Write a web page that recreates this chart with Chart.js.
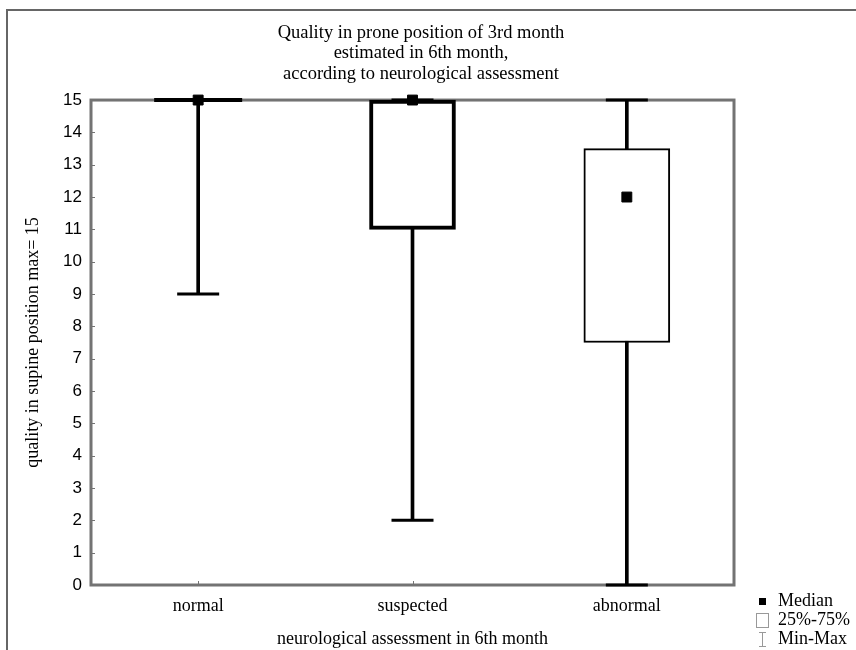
<!DOCTYPE html>
<html>
<head>
<meta charset="utf-8">
<script src="https://cdn.jsdelivr.net/npm/chart.js@4.4.0/dist/chart.umd.min.js"></script>
<style>
  body { margin: 0; background: #fff; }
  canvas { display: block; }
</style>
</head>
<body>
<canvas id="myChart" width="856" height="650"></canvas>
<script>
// box plot values
const labels = ['normal', 'suspected', 'abnormal'];
const minValues = [9, 2, 0];
const q1Values = [15, 11, 7.5];
const medianValues = [15, 15, 12];
const q3Values = [15, 15, 13.5];
const maxValues = [15, 15, 15];
const yTicks = [0, 1, 2, 3, 4, 5, 6, 7, 8, 9, 10, 11, 12, 13, 14, 15];

const frameGrey = '#737373';

// caps at both ends of each whisker
const capPoints = [];
labels.forEach((l, i) => {
    capPoints.push({x: l, y: minValues[i]});
    capPoints.push({x: l, y: maxValues[i]});
});
// a box with q1 == q3 collapses to a thick line
const flatBoxes = labels.filter((l, i) => q1Values[i] === q3Values[i])
    .map(l => ({x: l, y: q1Values[labels.indexOf(l)]}));

const data = {
    labels: labels,
    datasets: [{
            type: 'line',
            label: 'Median',
            data: labels.map((l, i) => ({x: l, y: medianValues[i]})),
            showLine: false,
            pointStyle: 'rect',
            pointRadius: 7,
            pointBackgroundColor: '#000',
            pointBorderColor: '#000',
            pointBorderWidth: 1,
            clip: false,
            order: 0
        },
        {
            type: 'bar',
            label: '25%-75%',
            data: labels.map((l, i) => [q1Values[i], q3Values[i]]),
            backgroundColor: '#fff',
            borderColor: '#000',
            borderWidth: [4, 4, 2],
            borderSkipped: false,
            barThickness: 86,
            grouped: false,
            clip: false,
            order: 1
        },
        {
            type: 'line',
            label: 'flat box',
            data: flatBoxes,
            showLine: false,
            pointStyle: 'line',
            pointRadius: 44,
            pointBorderColor: '#000',
            pointBorderWidth: 4,
            clip: false,
            order: 2
        },
        {
            type: 'line',
            label: 'caps',
            data: capPoints,
            showLine: false,
            pointStyle: 'line',
            pointRadius: 21,
            pointBorderColor: '#000',
            pointBorderWidth: 3,
            clip: false,
            order: 3
        },
        {
            type: 'bar',
            label: 'Min-Max',
            data: labels.map((l, i) => [minValues[i], maxValues[i]]),
            backgroundColor: '#000',
            borderWidth: 0,
            barThickness: 3,
            grouped: false,
            clip: false,
            order: 4
        }
    ]
};

// outer frame, grey plot box, inward ticks and the small legend
const gr_frame = {
    id: 'gr_frame',
    beforeDatasetsDraw(chart) {
        const ctx = chart.ctx;
        const a = chart.chartArea;
        ctx.save();
        ctx.strokeStyle = '#666';
        ctx.lineWidth = 2;
        ctx.beginPath();
        ctx.moveTo(7, 650);
        ctx.lineTo(7, 10);
        ctx.lineTo(856, 10);
        ctx.stroke();

        ctx.strokeStyle = frameGrey;
        ctx.lineWidth = 3;
        ctx.strokeRect(a.left, a.top, a.right - a.left, a.bottom - a.top);

        ctx.lineWidth = 1;
        const ys = chart.scales.y;
        ys.ticks.forEach((t, i) => {
            const py = Math.round(ys.getPixelForTick(i)) + 0.5;
            ctx.beginPath();
            ctx.moveTo(a.left, py);
            ctx.lineTo(a.left + 4, py);
            ctx.stroke();
        });
        const xs = chart.scales.x;
        labels.forEach((l, i) => {
            const px = Math.round(xs.getPixelForValue(i)) + 0.5;
            ctx.beginPath();
            ctx.moveTo(px, a.bottom);
            ctx.lineTo(px, a.bottom - 4);
            ctx.stroke();
        });
        ctx.restore();
    },
    afterDraw(chart) {
        const ctx = chart.ctx;
        ctx.save();
        ctx.font = '18px "Liberation Serif"';
        ctx.fillStyle = '#000';
        ctx.textBaseline = 'middle';
        ctx.fillText('Median', 778, 601);
        ctx.fillText('25%-75%', 778, 620);
        ctx.fillText('Min-Max', 778, 639);

        ctx.fillRect(759, 598, 7, 7);
        ctx.strokeStyle = '#999';
        ctx.lineWidth = 1;
        ctx.strokeRect(756.5, 613.5, 12, 14);
        ctx.beginPath();
        ctx.moveTo(762.5, 632);
        ctx.lineTo(762.5, 647);
        ctx.moveTo(759, 632.5);
        ctx.lineTo(766, 632.5);
        ctx.moveTo(759, 646.5);
        ctx.lineTo(766, 646.5);
        ctx.stroke();
        ctx.restore();
    }
};

Chart.defaults.font.family = '"Liberation Serif"';
Chart.defaults.color = '#000';

const gr_config = {
    type: 'bar',
    data: data,
    options: {
        responsive: false,
        animation: false,
        layout: {
            padding: {left: 8, right: 22, top: 0, bottom: 0}
        },
        plugins: {
            legend: {display: false},
            tooltip: {enabled: false},
            title: {
                display: true,
                text: ['Quality in prone position of 3rd month',
                    'estimated in 6th month,',
                    'according to neurological assessment'],
                font: {size: 18.5, weight: 'normal', lineHeight: 1.1},
                padding: {top: 23, bottom: 16}
            }
        },
        scales: {
            x: {
                type: 'category',
                offset: true,
                grid: {display: false, drawTicks: false},
                border: {display: false},
                ticks: {font: {size: 18}, padding: 10},
                title: {
                    display: true,
                    text: 'neurological assessment in 6th month',
                    font: {size: 18},
                    padding: {top: 6, bottom: 0}
                },
                afterFit(scale) { scale.height = 65; }
            },
            y: {
                min: 0,
                max: 15,
                afterBuildTicks(scale) {
                    scale.ticks = yTicks.map(v => ({value: v}));
                },
                grid: {display: false, drawTicks: false},
                border: {display: false},
                ticks: {
                    font: {family: '"Liberation Sans"', size: 17},
                    padding: 9
                },
                title: {
                    display: true,
                    text: 'quality in supine position max= 15',
                    font: {size: 18},
                    padding: {top: 14, bottom: 0}
                },
                afterFit(scale) { scale.width = 83; }
            },
            // empty spacer on the right, keeps room for the legend
            spacer: {
                type: 'linear',
                position: 'right',
                grid: {display: false, drawTicks: false},
                border: {display: false},
                ticks: {display: false},
                afterFit(scale) { scale.width = 100; }
            }
        }
    },
    plugins: [gr_frame]
};

var ctx = document.getElementById('myChart');
var myChart = new Chart(ctx, gr_config);
</script>
</body>
</html>
